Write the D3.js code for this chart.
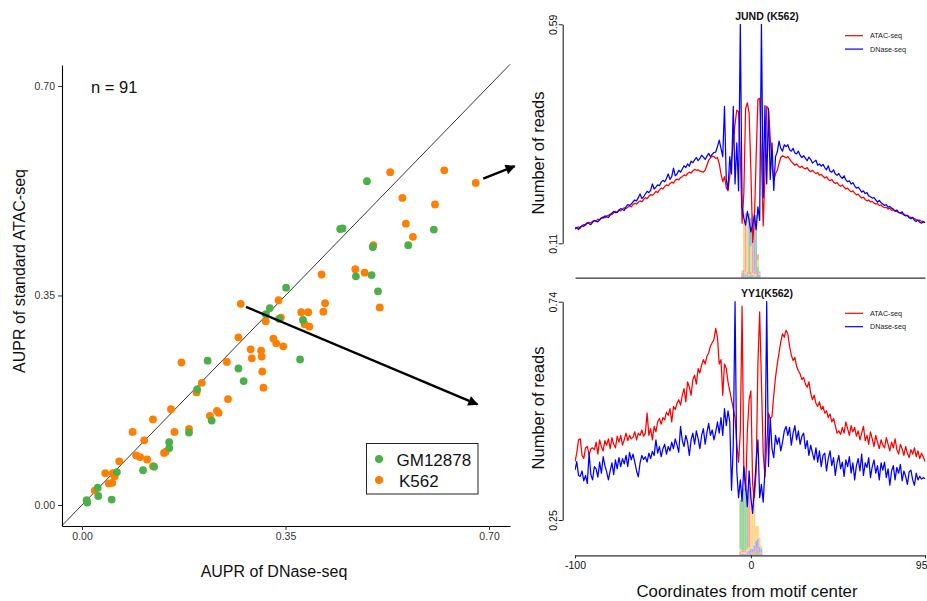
<!DOCTYPE html>
<html>
<head>
<meta charset="utf-8">
<script src="https://cdn.jsdelivr.net/npm/d3@7"></script>
<style>
  body { margin: 0; background: #fff; }
  svg { display: block; }
  text { font-family: "Liberation Sans", Arial, Helvetica, sans-serif; }
</style>
</head>
<body>
<svg id="chart" width="927" height="601"></svg>
<script>
// ---- Scatter: AUPR of DNase-seq vs standard ATAC-seq, one point per TF dataset ----
const gmDnase = [0.490,0.444,0.448,0.605,0.500,0.561,0.471,0.498,0.509,0.351,0.323,0.316,0.339,0.380,0.375,0.216,0.269,0.278,0.198,0.223,0.184,0.150,0.150,0.124,0.105,0.060,0.027,0.028,0.051,0.008,0.009];
const gmAtac  = [0.541,0.461,0.462,0.460,0.431,0.434,0.382,0.384,0.357,0.363,0.329,0.319,0.311,0.309,0.243,0.241,0.228,0.207,0.193,0.141,0.121,0.105,0.095,0.064,0.058,0.055,0.029,0.015,0.009,0.008,0.004];
const k562Dnase = [0.530,0.623,0.677,0.551,0.607,0.557,0.569,0.501,0.412,0.470,0.486,0.338,0.273,0.418,0.512,0.377,0.389,0.415,0.316,0.342,0.383,0.391,0.269,0.329,0.334,0.346,0.290,0.308,0.292,0.309,0.171,0.249,0.310,0.206,0.197,0.312,0.251,0.153,0.122,0.220,0.232,0.235,0.087,0.159,0.184,0.107,0.141,0.144,0.093,0.100,0.112,0.064,0.122,0.040,0.053,0.056,0.046,0.052,0.022];
const k562Atac  = [0.556,0.559,0.538,0.513,0.502,0.470,0.448,0.434,0.385,0.394,0.388,0.342,0.336,0.337,0.330,0.322,0.322,0.323,0.307,0.313,0.302,0.298,0.280,0.278,0.270,0.265,0.260,0.258,0.245,0.248,0.238,0.239,0.223,0.204,0.188,0.196,0.177,0.160,0.143,0.149,0.157,0.154,0.122,0.122,0.127,0.108,0.087,0.089,0.083,0.080,0.076,0.073,0.065,0.053,0.053,0.048,0.036,0.037,0.024];
const scatterTicks = [0, 0.35, 0.70];
const cellLines = ["GM12878", "K562"];
const cellColors = ["#4DAF4A", "#FF7F00"];

// ---- Footprint profiles around the motif centre (positions -100 .. 99) ----
const positions = d3.range(-100, 100);
const jundAtac = [
  0.141,0.144,0.146,0.143,0.149,0.151,0.150,0.154,0.156,0.155,
  0.158,0.160,0.159,0.163,0.161,0.165,0.168,0.166,0.170,0.171,
  0.174,0.173,0.177,0.180,0.178,0.182,0.181,0.185,0.188,0.186,
  0.189,0.192,0.190,0.195,0.198,0.196,0.200,0.203,0.201,0.206,
  0.210,0.208,0.213,0.217,0.215,0.219,0.224,0.221,0.227,0.231,
  0.229,0.235,0.238,0.236,0.241,0.244,0.242,0.248,0.251,0.249,
  0.254,0.256,0.260,0.258,0.263,0.266,0.264,0.269,0.272,0.270,
  0.271,0.268,0.267,0.266,0.270,0.281,0.292,0.297,0.301,0.300,
  0.296,0.298,0.285,0.262,0.245,0.256,0.232,0.225,0.258,0.290,
  0.330,0.372,0.402,0.398,0.300,0.154,0.220,0.405,0.418,0.395,
  0.270,0.112,0.160,0.300,0.425,0.428,0.300,0.148,0.260,0.410,
  0.405,0.340,0.280,0.248,0.262,0.270,0.285,0.298,0.302,0.300,
  0.297,0.300,0.295,0.289,0.285,0.281,0.284,0.279,0.276,0.279,
  0.275,0.273,0.276,0.270,0.267,0.270,0.266,0.263,0.265,0.259,
  0.261,0.257,0.253,0.256,0.250,0.247,0.250,0.244,0.241,0.243,
  0.238,0.235,0.238,0.233,0.229,0.231,0.226,0.223,0.225,0.220,
  0.216,0.218,0.213,0.209,0.211,0.206,0.203,0.205,0.201,0.202,
  0.198,0.196,0.197,0.193,0.194,0.190,0.188,0.189,0.185,0.187,
  0.182,0.183,0.180,0.180,0.177,0.177,0.174,0.174,0.171,0.171,
  0.168,0.167,0.165,0.164,0.162,0.160,0.161,0.158,0.158,0.155
];
const jundDnase = [
  0.143,0.145,0.140,0.146,0.148,0.147,0.152,0.155,0.153,0.151,
  0.156,0.160,0.158,0.157,0.162,0.166,0.165,0.170,0.168,0.167,
  0.172,0.176,0.180,0.177,0.178,0.183,0.186,0.184,0.182,0.190,
  0.195,0.193,0.196,0.201,0.205,0.203,0.210,0.218,0.208,0.212,
  0.218,0.224,0.221,0.226,0.240,0.229,0.233,0.238,0.236,0.244,
  0.248,0.245,0.252,0.262,0.250,0.256,0.275,0.258,0.262,0.270,
  0.266,0.273,0.280,0.276,0.284,0.279,0.290,0.287,0.293,0.298,
  0.291,0.296,0.303,0.299,0.294,0.301,0.307,0.300,0.305,0.309,
  0.310,0.322,0.336,0.318,0.300,0.410,0.250,0.228,0.300,0.262,
  0.410,0.240,0.330,0.225,0.590,0.190,0.165,0.150,0.180,0.160,
  0.135,0.150,0.172,0.140,0.190,0.160,0.590,0.210,0.412,0.240,
  0.405,0.250,0.330,0.226,0.300,0.310,0.334,0.318,0.312,0.326,
  0.322,0.326,0.315,0.312,0.318,0.308,0.306,0.312,0.303,0.298,
  0.302,0.296,0.291,0.299,0.294,0.286,0.289,0.292,0.281,0.284,
  0.279,0.283,0.276,0.271,0.280,0.268,0.266,0.271,0.262,0.259,
  0.263,0.256,0.252,0.258,0.249,0.245,0.247,0.240,0.243,0.236,
  0.231,0.233,0.228,0.222,0.225,0.219,0.221,0.214,0.212,0.209,
  0.210,0.205,0.200,0.204,0.199,0.196,0.193,0.195,0.189,0.191,
  0.187,0.185,0.181,0.183,0.178,0.176,0.179,0.172,0.170,0.171,
  0.166,0.164,0.167,0.160,0.158,0.161,0.156,0.154,0.157,0.156
];
const yy1Atac = [
  0.381,0.400,0.430,0.432,0.395,0.388,0.412,0.415,0.396,0.410,
  0.412,0.408,0.425,0.398,0.430,0.415,0.405,0.428,0.418,0.432,
  0.410,0.435,0.420,0.412,0.438,0.425,0.440,0.418,0.430,0.445,
  0.428,0.440,0.432,0.436,0.448,0.430,0.445,0.440,0.452,0.438,
  0.445,0.490,0.440,0.455,0.430,0.460,0.448,0.470,0.478,0.465,
  0.480,0.475,0.492,0.485,0.500,0.470,0.505,0.498,0.512,0.520,
  0.508,0.530,0.545,0.515,0.560,0.548,0.530,0.565,0.575,0.555,
  0.590,0.580,0.598,0.610,0.600,0.618,0.625,0.640,0.648,0.655,
  0.680,0.660,0.600,0.610,0.530,0.600,0.590,0.560,0.540,0.520,
  0.500,0.480,0.420,0.380,0.450,0.730,0.360,0.317,0.450,0.520,
  0.540,0.330,0.300,0.360,0.600,0.717,0.560,0.400,0.347,0.420,
  0.490,0.478,0.482,0.530,0.570,0.600,0.625,0.650,0.668,0.660,
  0.676,0.668,0.640,0.620,0.608,0.615,0.595,0.585,0.578,0.565,
  0.570,0.555,0.548,0.560,0.535,0.520,0.530,0.512,0.505,0.515,
  0.498,0.505,0.490,0.495,0.480,0.488,0.470,0.478,0.462,0.445,
  0.450,0.442,0.458,0.445,0.470,0.455,0.440,0.462,0.448,0.458,
  0.438,0.450,0.430,0.445,0.460,0.428,0.440,0.420,0.448,0.432,
  0.415,0.440,0.425,0.410,0.430,0.418,0.412,0.435,0.420,0.405,
  0.425,0.412,0.432,0.408,0.398,0.420,0.410,0.395,0.415,0.400,
  0.390,0.408,0.398,0.412,0.392,0.405,0.388,0.400,0.392,0.381
];
const yy1Dnase = [
  0.362,0.381,0.350,0.348,0.360,0.338,0.350,0.332,0.400,0.352,
  0.340,0.370,0.365,0.346,0.380,0.355,0.392,0.372,0.358,0.340,
  0.360,0.378,0.352,0.385,0.365,0.390,0.370,0.388,0.376,0.395,
  0.370,0.402,0.385,0.398,0.380,0.360,0.347,0.378,0.395,0.386,
  0.392,0.380,0.400,0.388,0.404,0.395,0.430,0.400,0.415,0.392,
  0.410,0.420,0.398,0.415,0.405,0.425,0.410,0.432,0.418,0.402,
  0.460,0.428,0.415,0.440,0.425,0.395,0.430,0.445,0.420,0.450,
  0.432,0.410,0.440,0.455,0.420,0.446,0.467,0.440,0.452,0.430,
  0.448,0.470,0.445,0.480,0.440,0.500,0.462,0.495,0.470,0.317,
  0.420,0.740,0.360,0.300,0.340,0.292,0.370,0.330,0.280,0.360,
  0.300,0.265,0.320,0.380,0.430,0.300,0.330,0.290,0.360,0.740,
  0.370,0.480,0.410,0.390,0.440,0.420,0.435,0.405,0.425,0.450,
  0.460,0.440,0.458,0.418,0.445,0.462,0.430,0.450,0.420,0.438,
  0.445,0.410,0.428,0.395,0.418,0.400,0.385,0.412,0.380,0.405,
  0.370,0.395,0.400,0.360,0.388,0.405,0.372,0.390,0.350,0.378,
  0.395,0.365,0.380,0.348,0.385,0.370,0.392,0.355,0.378,0.340,
  0.372,0.388,0.360,0.398,0.350,0.378,0.368,0.390,0.345,0.370,
  0.385,0.355,0.372,0.340,0.378,0.362,0.380,0.345,0.365,0.328,
  0.360,0.372,0.340,0.368,0.355,0.375,0.338,0.360,0.348,0.330,
  0.358,0.362,0.340,0.328,0.355,0.340,0.348,0.342,0.345,0.343
];
const profileXTicks = [-100, 0, 99];
const profileXTickLabels = ["-100", "0", "95"];
const jundYTicks = [0.11, 0.59];
const yy1YTicks = [0.25, 0.74];
const seriesNames = ["ATAC-seq", "DNase-seq"];
const seriesColors = ["#ff0000", "#0000ff"];

// Motif logos drawn under the footprints: column position and A/C/G/T heights (bits)
const logoColors = ["#1e9e1e", "#3050ff", "#ffa500", "#ff3030"];
const jundLogoPos = [-5, -4, -3, -2, -1, 0, 1, 2, 3, 4, 5];
const jundLogoBits = [
  [0.06, 0.05, 0.08, 0.05],
  [0.10, 0.05, 1.60, 0.10],
  [0.05, 0.05, 0.10, 1.85],
  [0.05, 0.05, 1.80, 0.10],
  [1.90, 0.05, 0.05, 0.05],
  [0.10, 0.90, 0.80, 0.10],
  [0.05, 0.05, 0.05, 1.90],
  [0.05, 1.80, 0.05, 0.10],
  [1.85, 0.05, 0.05, 0.05],
  [0.20, 0.15, 0.20, 0.20],
  [0.05, 0.05, 0.05, 0.05]
];
const yy1LogoPos = [-6, -5, -4, -3, -2, -1, 0, 1, 2, 3, 4, 5, 6];
const yy1LogoBits = [
  [1.50, 0.05, 0.10, 0.05],
  [1.70, 0.05, 0.05, 0.05],
  [1.90, 0.05, 0.05, 0.05],
  [1.85, 0.05, 0.05, 0.05],
  [1.80, 0.05, 0.10, 0.05],
  [0.05, 0.10, 0.10, 1.85],
  [0.05, 0.10, 1.90, 0.05],
  [0.05, 0.10, 1.85, 0.05],
  [0.05, 0.20, 1.70, 0.05],
  [0.10, 0.25, 0.45, 0.10],
  [0.10, 0.30, 0.40, 0.10],
  [0.05, 0.15, 0.30, 0.05],
  [0.05, 0.10, 0.10, 0.05]
];

const svg = d3.select("#chart");
const defs = svg.append("defs");

// ================= Scatter panel =================
const sx = d3.scaleLinear().domain([-0.0344, 0.736]).range([62, 510]);
const sy = d3.scaleLinear().domain([-0.0351, 0.735]).range([526, 65]);
const scatter = svg.append("g");

// y = x reference line
const diag = sx.domain();
scatter.append("line")
  .attr("x1", sx(diag[0])).attr("y1", sy(diag[0]))
  .attr("x2", sx(diag[1])).attr("y2", sy(diag[1]))
  .attr("stroke", "#000").attr("stroke-width", 0.8);

const styleAxis = (g) => {
  g.select(".domain").attr("stroke", "#000").attr("stroke-width", 1.1);
  g.selectAll(".tick line").attr("stroke", "#333");
  g.selectAll(".tick text").attr("fill", "#333").attr("font-size", 10.5)
    .attr("font-family", "Liberation Sans, Arial, sans-serif");
};
scatter.append("g").attr("transform", "translate(0,526)")
  .call(d3.axisBottom(sx).tickValues(scatterTicks).tickFormat(d3.format(".2f")).tickSize(4).tickSizeOuter(0).tickPadding(3))
  .call(styleAxis);
scatter.append("g").attr("transform", "translate(62,0)")
  .call(d3.axisLeft(sy).tickValues(scatterTicks).tickFormat(d3.format(".2f")).tickSize(4).tickSizeOuter(0).tickPadding(3))
  .call(styleAxis);

const k562Pts = k562Dnase.map((d, i) => [d, k562Atac[i]]);
const gmPts = gmDnase.map((d, i) => [d, gmAtac[i]]);
scatter.append("g").selectAll("circle").data(k562Pts).join("circle")
  .attr("cx", d => sx(d[0])).attr("cy", d => sy(d[1])).attr("r", 3.9).attr("fill", cellColors[1]);
scatter.append("g").selectAll("circle").data(gmPts).join("circle")
  .attr("cx", d => sx(d[0])).attr("cy", d => sy(d[1])).attr("r", 3.9).attr("fill", cellColors[0]);

scatter.append("text").attr("x", 91).attr("y", 93).attr("font-size", 16.5).attr("fill", "#111").text("n = 91");
scatter.append("text").attr("x", 274).attr("y", 577).attr("text-anchor", "middle")
  .attr("font-size", 16).attr("fill", "#111").text("AUPR of DNase-seq");
scatter.append("text").attr("transform", "translate(25,271) rotate(-90)").attr("text-anchor", "middle")
  .attr("font-size", 16).attr("fill", "#111").text("AUPR of standard ATAC-seq");

// legend
const lg = scatter.append("g");
lg.append("rect").attr("x", 366.5).attr("y", 443.5).attr("width", 111.5).attr("height", 50.5)
  .attr("fill", "#fff").attr("stroke", "#222").attr("stroke-width", 1);
cellLines.forEach((name, i) => {
  lg.append("circle").attr("cx", 379).attr("cy", 459 + i * 21).attr("r", 4).attr("fill", cellColors[i]);
  lg.append("text").attr("x", i === 0 ? 396.5 : 399).attr("y", 465.5 + i * 21)
    .attr("font-size", 17).attr("fill", "#111").text(name);
});

// arrows linking the scatter to the footprint panels
defs.append("marker").attr("id", "head").attr("viewBox", "0 0 10 10").attr("refX", 9).attr("refY", 5)
  .attr("markerWidth", 4.6).attr("markerHeight", 4.2).attr("orient", "auto").attr("markerUnits", "strokeWidth")
  .append("path").attr("d", "M0,0 L10,5 L0,10 Z").attr("fill", "#000");
const arrows = [[[0.690, 0.545], [0.744, 0.566]], [[0.282, 0.331], [0.680, 0.168]]];
arrows.forEach(a => {
  svg.append("line")
    .attr("x1", sx(a[0][0])).attr("y1", sy(a[0][1])).attr("x2", sx(a[1][0])).attr("y2", sy(a[1][1]))
    .attr("stroke", "#000").attr("stroke-width", 2.4).attr("marker-end", "url(#head)");
});

// ================= Footprint panels =================
const px = d3.scaleLinear().domain([-100, 99]).range([575, 925]);

function footprint(opt) {
  const g = svg.append("g");
  const py = d3.scaleLinear().domain(opt.yTicks).range([opt.yBottom, opt.yTop]);
  const clipId = "clip" + opt.id;
  defs.append("clipPath").attr("id", clipId).append("rect")
    .attr("x", 575).attr("y", opt.yTop - 1).attr("width", 352).attr("height", opt.axisY - opt.yTop + 1);

  // motif logo (translucent stacked letters as columns)
  const logoH = opt.axisY - opt.logoTop;
  const bitScale = d3.scaleLinear().domain([0, 2]).range([0, logoH]);
  const logo = g.append("g").attr("opacity", 0.45);
  opt.logoPos.forEach((p, ci) => {
    const bits = opt.logoBits[ci];
    const order = d3.range(4).sort((a, b) => bits[a] - bits[b]);
    let y0 = opt.axisY;
    order.forEach(k => {
      const h = bitScale(bits[k]);
      logo.append("rect").attr("x", px(p - 0.5)).attr("width", px(p + 0.5) - px(p - 0.5))
        .attr("y", y0 - h).attr("height", h).attr("fill", logoColors[k]);
      y0 -= h;
    });
  });

  const line = d3.line().x((d, i) => px(positions[i])).y(d => py(d));
  const lines = g.append("g").attr("clip-path", `url(#${clipId})`);
  [opt.atac, opt.dnase].forEach((s, i) => {
    lines.append("path").datum(s).attr("d", line).attr("fill", "none")
      .attr("stroke", seriesColors[i]).attr("stroke-width", 1.25).attr("stroke-linejoin", "round");
  });

  // y axis (drawn between the first and last tick only)
  const ya = g.append("g").attr("transform", "translate(562.7,0)")
    .call(d3.axisLeft(py).tickValues(opt.yTicks).tickFormat(d3.format(".2f")).tickSize(4).tickSizeOuter(0));
  ya.select(".domain").attr("stroke", "#222").attr("stroke-width", 1.1);
  ya.selectAll(".tick line").attr("stroke", "#222");
  ya.selectAll(".tick text").attr("transform", "rotate(-90)").attr("x", 0).attr("y", -6).attr("dy", 0)
    .attr("text-anchor", "middle").attr("font-size", 10.5).attr("fill", "#111")
    .attr("font-family", "Liberation Sans, Arial, sans-serif");

  // x axis
  const xa = g.append("g").attr("transform", `translate(0,${opt.axisY})`)
    .call(d3.axisBottom(px).tickValues(opt.showTicks ? profileXTicks : []).tickSize(opt.showTicks ? 3 : 0)
      .tickSizeOuter(0).tickPadding(3)
      .tickFormat((d, i) => profileXTickLabels[i]));
  xa.select(".domain").attr("stroke", "#333").attr("stroke-width", 1.3);
  xa.selectAll(".tick line").attr("stroke", "#222");
  xa.selectAll(".tick text").attr("font-size", 10.5).attr("fill", "#111")
    .attr("font-family", "Liberation Sans, Arial, sans-serif")
    .attr("text-anchor", (d, i) => i === profileXTicks.length - 1 ? "end" : "middle")
    .attr("x", (d, i) => i === profileXTicks.length - 1 ? 2 : 0);

  g.append("text").attr("x", 767).attr("y", opt.titleY).attr("text-anchor", "middle")
    .attr("font-size", 10.5).attr("font-weight", "bold").attr("fill", "#111").text(opt.title);
  g.append("text").attr("transform", `translate(544,${opt.labelY}) rotate(-90)`).attr("text-anchor", "middle")
    .attr("font-size", 16.5).attr("fill", "#111").text("Number of reads");

  // legend
  seriesNames.forEach((name, i) => {
    const ly = opt.legendY + i * 13.4;
    g.append("line").attr("x1", 845).attr("x2", 863).attr("y1", ly).attr("y2", ly)
      .attr("stroke", seriesColors[i]).attr("stroke-width", 1.2);
    g.append("text").attr("x", 870).attr("y", ly + 2.5).attr("font-size", 7.2).attr("fill", "#222").text(name);
  });
}

footprint({ id: "jund", title: "JUND (K562)", atac: jundAtac, dnase: jundDnase, yTicks: jundYTicks,
  yTop: 24.3, yBottom: 243.3, axisY: 277.7, logoTop: 215, logoPos: jundLogoPos, logoBits: jundLogoBits,
  showTicks: false, titleY: 20, labelY: 153, legendY: 35.7 });
footprint({ id: "yy1", title: "YY1(K562)", atac: yy1Atac, dnase: yy1Dnase, yTicks: yy1YTicks,
  yTop: 301.7, yBottom: 520, axisY: 555.3, logoTop: 490, logoPos: yy1LogoPos, logoBits: yy1LogoBits,
  showTicks: true, titleY: 297, labelY: 408, legendY: 313.3 });

svg.append("text").attr("x", 747).attr("y", 597).attr("text-anchor", "middle")
  .attr("font-size", 16.8).attr("fill", "#111").text("Coordinates from motif center");
</script>
</body>
</html>
